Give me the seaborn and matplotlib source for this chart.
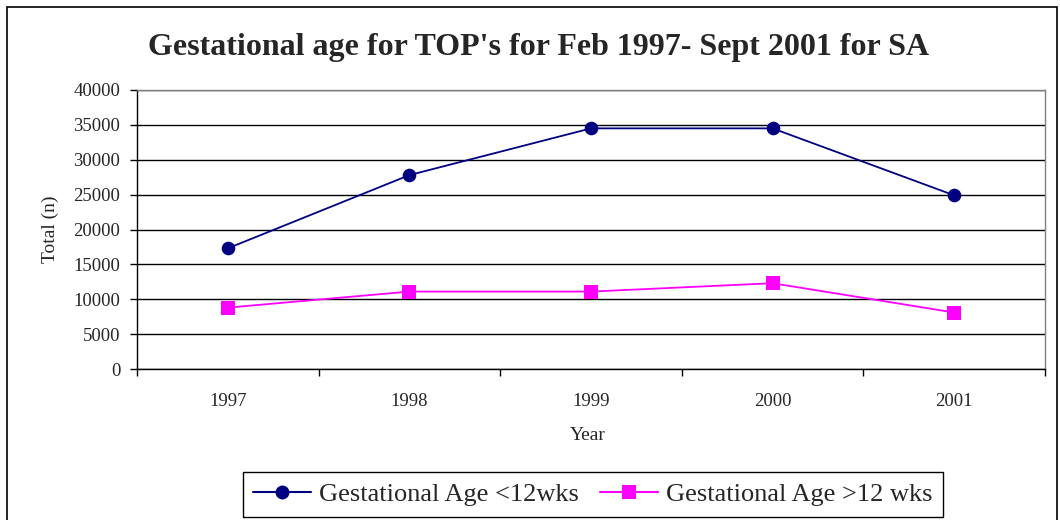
import seaborn as sns
import numpy as np
import pandas as pd
import matplotlib
matplotlib.use("Agg")
import matplotlib.pyplot as plt
from matplotlib.patches import Rectangle

####### data #######
years = ["1997", "1998", "1999", "2000", "2001"]
under12 = [17300, 27800, 34500, 34500, 24900]
over12 = [8800, 11100, 11100, 12300, 8100]
series_names = ["Gestational Age <12wks", "Gestational Age >12 wks"]
yticks = [0, 5000, 10000, 15000, 20000, 25000, 30000, 35000, 40000]

sns.set_theme(style="white")
plt.rcParams['font.family'] = ['Liberation Serif', 'DejaVu Serif']

# long form table for seaborn
pos = np.arange(len(years))
df = pd.DataFrame({
    "pos": np.concatenate([pos, pos]),
    "value": under12 + over12,
    "series": [series_names[0]] * len(years) + [series_names[1]] * len(years),
})

fig = plt.figure(figsize=(10.6, 5.2), dpi=100)
ax = fig.add_axes([137/1060, 1-369/520, (1045-137)/1060, (369-90)/520])

colors = {series_names[0]: "#000080", series_names[1]: "#FF00FF"}
markers = {series_names[0]: "o", series_names[1]: "s"}
sns.lineplot(data=df, x="pos", y="value", hue="series", style="series",
             palette=colors, markers=markers, dashes=False, markersize=9.8,
             markeredgewidth=0, linewidth=1.3, ax=ax, legend=False)

ax.set_xlim(-0.5, len(years) - 0.5)
ax.set_ylim(0, 40000)
ax.set_yticks(yticks)
ax.set_yticklabels([str(v) for v in yticks])
ax.yaxis.grid(True, color="black", linewidth=1)
ax.set_axisbelow(True)

# excel style: ticks between categories, labels centred
ax.set_xticks(np.arange(-0.5, len(years)))
ax.set_xticklabels([])
ax.set_xticks(pos, minor=True)
ax.set_xticklabels(years, minor=True)
ax.tick_params(axis="x", which="major", direction="out", length=5, width=1, color="black", bottom=True)
ax.tick_params(axis="x", which="minor", length=0, pad=17, labelsize=13.5)
ax.tick_params(axis="y", direction="out", length=5, width=1, color="black", left=True, pad=7, labelsize=13.5)

for s in ["left", "bottom"]:
    ax.spines[s].set_color("black")
    ax.spines[s].set_linewidth(1)
for s in ["top", "right"]:
    ax.spines[s].set_color("#808080")
    ax.spines[s].set_linewidth(1)

ax.set_xlabel("Year", fontsize=14)
ax.xaxis.set_label_coords((588-137)/908, -(436-369)/279)
ax.xaxis.label.set_va("center")
ax.set_ylabel("Total (n)", fontsize=14)
ax.yaxis.set_label_coords((50-137)/908, 0.5)
ax.yaxis.label.set_va("center")

fig.text(539/1060, 1-47/520, "Gestational age for TOP's for Feb 1997- Sept 2001 for SA",
         ha="center", va="center", fontsize=23, fontweight="bold")

# legend
handles = [plt.Line2D([], [], color=colors[n], marker=markers[n], markersize=10,
                      markeredgewidth=0, linewidth=1.5) for n in series_names]
leg = fig.legend(handles, series_names, loc="center", ncol=2,
                 bbox_to_anchor=(593/1060, 1-494.5/520), fontsize=19,
                 frameon=True, fancybox=False, framealpha=1, edgecolor="black",
                 handlelength=2.2, handletextpad=0.3, columnspacing=0.8,
                 borderpad=0.4, borderaxespad=0)
leg.get_frame().set_linewidth(1)

# chart area border
fig.patches.append(Rectangle((7/1060, -0.05), (1057-7)/1060, 1.05-7/520,
                             transform=fig.transFigure, fill=False,
                             edgecolor="black", linewidth=1.2))

plt.savefig("out.png", dpi=100)
